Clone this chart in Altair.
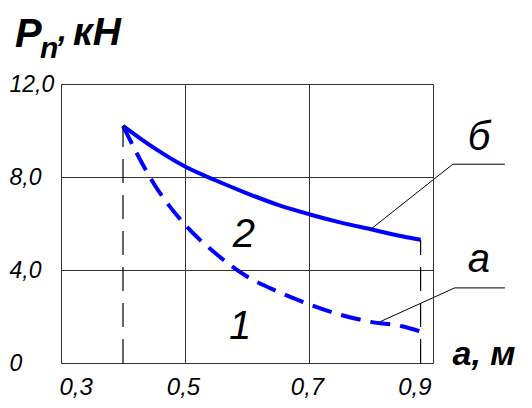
import altair as alt
import pandas as pd

# ---- data ----
a_vals = [0.40, 0.45, 0.50, 0.55, 0.60, 0.65, 0.70, 0.75, 0.80, 0.85, 0.88]
p_solid = [10.2, 9.25, 8.45, 7.85, 7.3, 6.8, 6.4, 6.05, 5.75, 5.45, 5.3]     # curve 2 (б)
p_dashed = [10.2, 7.7, 5.95, 4.7, 3.72, 3.07, 2.53, 2.08, 1.77, 1.58, 1.35]  # curve 1 (а)

drop_x = [0.40, 0.88]
drop_top = [10.2, 5.3]

leader_b_x = [0.798, 0.932, 1.016]
leader_b_y = [5.72, 8.55, 8.55]
leader_a_x = [0.815, 0.935, 1.016]
leader_a_y = [1.78, 3.23, 3.23]

label_text = ["2", "1", "б", "а"]
label_x = [0.595, 0.589, 0.974, 0.974]
label_y = [4.99, 1.03, 9.16, 3.91]

x_ticks = [0.3, 0.5, 0.7, 0.9]
y_ticks = [0, 4, 8, 12]
title_parts = ["P", "n", ",", "кН"]
x_title = "a, м"

FONT = "Liberation Sans"
BLUE = "#0000ff"

xs = alt.Scale(domain=[0.3, 0.9], nice=False, zero=False)
ys = alt.Scale(domain=[0, 12], nice=False)

solid_df = pd.DataFrame({"a": a_vals, "p": p_solid})
dashed_df = pd.DataFrame({"a": a_vals, "p": p_dashed})
drop_df = pd.DataFrame({"a": drop_x, "top": drop_top, "bottom": [0, 0]})
leader_df = pd.DataFrame({
    "a": leader_b_x + leader_a_x,
    "p": leader_b_y + leader_a_y,
    "id": ["b"] * 3 + ["a"] * 3,
    "k": [0, 1, 2] * 2,
})
label_df = pd.DataFrame({"t": label_text, "a": label_x, "p": label_y})

xaxis = alt.Axis(
    values=x_ticks, grid=True, gridColor="#333", gridWidth=1,
    domain=False, ticks=False,
    labelExpr="replace(format(datum.value, '.1f'), '.', ',')",
    labelFont=FONT, labelFontStyle="italic", labelFontSize=24, labelColor="black",
    labelBaseline="alphabetic", labelPadding=31, labelOffset=-2,
    title=x_title, titleFont=FONT, titleFontStyle="italic", titleFontWeight="bold",
    titleFontSize=34, titleColor="black", titleAlign="left", titleBaseline="alphabetic",
    titleX=391, titleY=1,
)
yaxis = alt.Axis(
    values=y_ticks, grid=True, gridColor="#333", gridWidth=1,
    domain=False, ticks=False,
    labelExpr="datum.value == 0 ? '0' : (datum.value == 12 ? '\u00a012,0' : replace(format(datum.value, '.1f'), '.', ','))",
    labelFont=FONT, labelFontStyle="italic", labelFontSize=23, labelColor="black",
    labelAlign="left", labelBaseline="middle", labelPadding=52,
    title=None,
)

solid = alt.Chart(solid_df).mark_line(color=BLUE, strokeWidth=4, interpolate="monotone").encode(
    x=alt.X("a:Q", scale=xs, axis=xaxis),
    y=alt.Y("p:Q", scale=ys, axis=yaxis),
)
dashed = alt.Chart(dashed_df).mark_line(color=BLUE, strokeWidth=4, strokeDash=[20, 10],
                                        interpolate="monotone").encode(
    x=alt.X("a:Q", scale=xs), y=alt.Y("p:Q", scale=ys)
)
drops = alt.Chart(drop_df).mark_rule(color="black", strokeWidth=1.2, strokeDash=[24, 12]).encode(
    x=alt.X("a:Q", scale=xs), y=alt.Y("bottom:Q", scale=ys), y2="top:Q"
)
leaders = alt.Chart(leader_df).mark_line(color="black", strokeWidth=1).encode(
    x=alt.X("a:Q", scale=xs), y=alt.Y("p:Q", scale=ys), detail="id:N", order="k:Q"
)
labels = alt.Chart(label_df).mark_text(
    font=FONT, fontStyle="italic", fontSize=40, color="black",
    align="center", baseline="alphabetic"
).encode(x=alt.X("a:Q", scale=xs), y=alt.Y("p:Q", scale=ys), text="t:N")

title_df = pd.DataFrame({"t": [0]})


def title_piece(txt, size, px, py):
    return alt.Chart(title_df).mark_text(
        text=txt, font=FONT, fontStyle="italic", fontWeight="bold", fontSize=size,
        color="black", align="left", baseline="alphabetic"
    ).encode(x=alt.value(px), y=alt.value(py))


t_p = title_piece(title_parts[0], 40, -46, -37)
t_n = title_piece(title_parts[1], 30, -21, -26)
t_c = title_piece(title_parts[2], 32, -3, -43)
t_u = title_piece(title_parts[3], 39, 12, -39)

chart = alt.layer(solid, dashed, drops, leaders, labels, t_p, t_n, t_c, t_u).properties(
    width=372, height=279,
    autosize=alt.AutoSizeParams(type="none"),
    padding={"left": 53, "top": 76, "right": 91, "bottom": 37},
    background="white",
).configure_view(stroke="#555", strokeWidth=1)

chart.save("out.html", embed_options={"renderer": "svg", "actions": False})
